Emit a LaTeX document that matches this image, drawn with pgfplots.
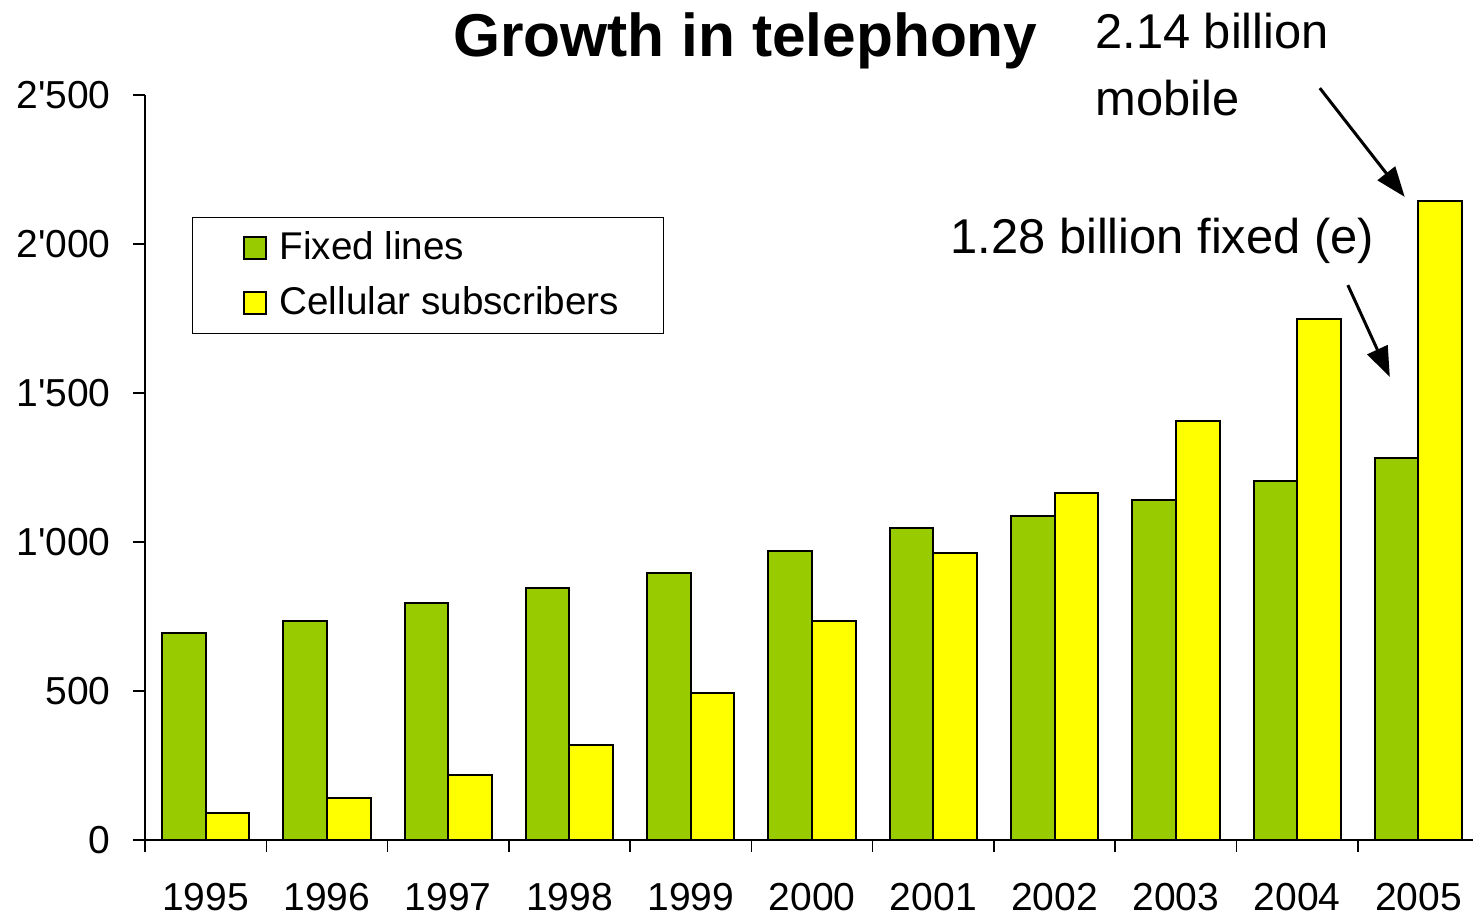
\documentclass[border=0pt]{standalone}
\usepackage{fontspec}
\setmainfont{Liberation Sans}
\usepackage{pgfplots}
\pgfplotsset{compat=1.18}
\usetikzlibrary{arrows.meta}
\definecolor{fixedgreen}{RGB}{153,204,0}
\definecolor{cellyellow}{RGB}{255,255,0}
\newcommand{\tq}{\textquotesingle}
\begin{document}
\begin{tikzpicture}[x=1mm,y=1mm]
\useasboundingbox (0,0) rectangle (147.3,91.5);
\begin{axis}[
  at={(14.5mm,7.5mm)}, anchor=south west,
  scale only axis,
  width=132.8mm, height=74.5mm,
  ybar=0pt, bar width=0.36,
  xmin=-0.5, xmax=10.45,
  ymin=0, ymax=2500,
  axis x line*=bottom, axis y line*=left,
  xtick={0,...,10},
  xticklabels={1995,1996,1997,1998,1999,2000,2001,2002,2003,2004,2005},
  major x tick style={draw=none},
  minor xtick={-0.5,0.5,...,10.5},
  minor tick length=1.2mm,
  ytick={0,500,1000,1500,2000,2500},
  yticklabels={0,500,1\tq000,1\tq500,2\tq000,2\tq500},
  major tick length=1.2mm,
  tick align=outside,
  tick style={black, line width=0.15mm},
  axis line style={line width=0.15mm},
  /pgf/number format/assume math mode=true,
  ticklabel style={font=\fontsize{11.1}{13}\selectfont},
  xticklabel style={yshift=-1.9mm},
  yticklabel style={xshift=-1mm},
  clip=false,
  legend style={at={(0.0354,0.836)}, anchor=north west, draw=black,
    line width=0.1mm, font=\fontsize{11}{12}\selectfont,
    inner xsep=3.7mm, inner ysep=0.7mm, row sep=0.7mm,
    /tikz/every odd column/.append style={column sep=0.6mm}},
  legend cell align=left,
  legend image code/.code={\path (0mm,0mm);
    \draw[#1, line width=0.2mm] (1.3mm,-1.1mm) rectangle (3.5mm,1.1mm);},
]
\addplot[fill=fixedgreen, draw=black, line width=0.2mm] coordinates {
  (0,695) (1,735) (2,795) (3,846) (4,896) (5,970) (6,1047) (7,1087) (8,1141) (9,1205) (10,1282)
};
\addplot[fill=cellyellow, draw=black, line width=0.2mm] coordinates {
  (0,91) (1,141) (2,218) (3,319) (4,493) (5,735) (6,963) (7,1164) (8,1406) (9,1748) (10,2144)
};
\legend{Fixed lines, Cellular subscribers}
\node[font=\fontsize{17.2}{19}\selectfont\bfseries] at (axis cs:4.45,2682) {Growth in telephony};
\node[anchor=north west, align=left, inner sep=0pt, font=\fontsize{13.9}{19}\selectfont] at (axis cs:7.33,2777) {2.14 billion\\mobile};
\node[anchor=west, inner sep=0pt, font=\fontsize{13.9}{17}\selectfont] at (axis cs:6.136,2010) {1.28 billion fixed (e)};
\draw[-{Triangle[length=3mm,width=2.2mm]}, line width=0.3mm] (axis cs:9.187,2523) -- (axis cs:9.887,2158);
\draw[-{Triangle[length=3mm,width=2.2mm]}, line width=0.3mm] (axis cs:9.418,1862) -- (axis cs:9.764,1554);
\end{axis}
\end{tikzpicture}
\end{document}
